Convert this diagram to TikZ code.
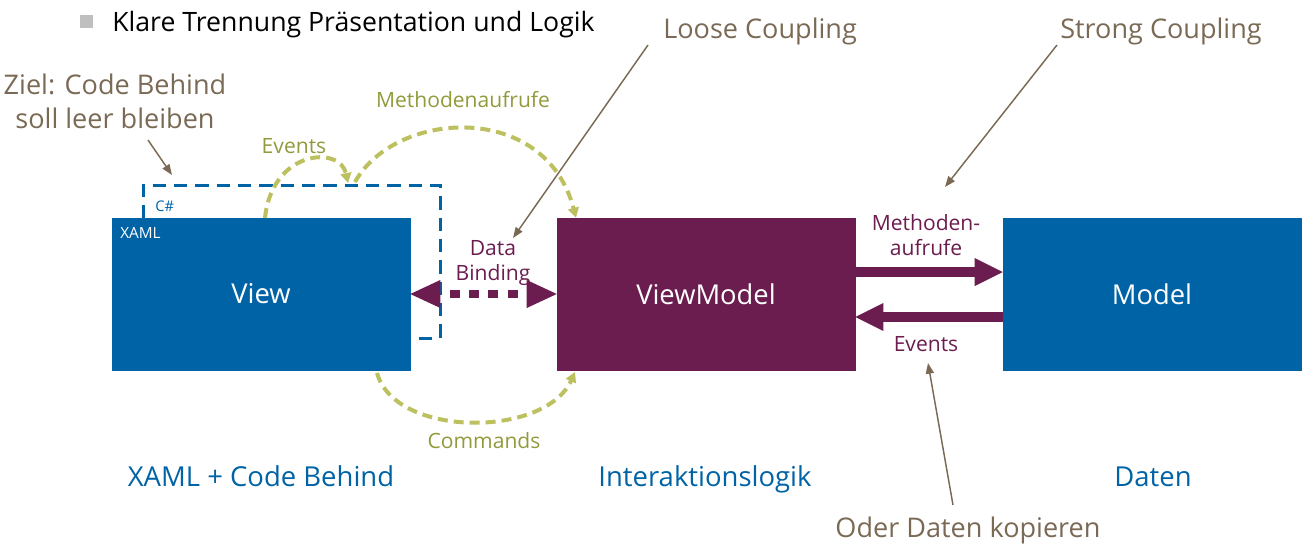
\documentclass[tikz,border=0pt]{standalone}
\usepackage{fontspec}
\setmainfont{Open Sans}
\usetikzlibrary{arrows.meta}
\definecolor{vblue}{RGB}{0,99,166}
\definecolor{vpurple}{RGB}{107,29,79}
\definecolor{vbrown}{RGB}{122,106,85}
\definecolor{vgreen}{RGB}{188,192,94}
\definecolor{vgreentext}{RGB}{146,154,60}
\definecolor{vgray}{RGB}{191,191,191}
\tikzset{
  box/.style={fill=#1, draw=#1, minimum width=223.5pt, minimum height=114pt, inner sep=0pt,
              text=white, font=\fontsize{20.5}{24}\selectfont},
  lbl/.style={inner sep=0pt, font=\fontsize{#1}{24}\selectfont},
  brownlbl/.style={inner sep=0pt, text=vbrown, font=\fontsize{20.3}{25.5}\selectfont, align=center},
  greenlbl/.style={inner sep=0pt, text=vgreentext, font=\fontsize{15.8}{19}\selectfont},
  purplelbl/.style={inner sep=0pt, text=vpurple, font=\fontsize{15.8}{19}\selectfont, align=center},
  bluelbl/.style={inner sep=0pt, text=vblue, font=\fontsize{20.6}{24}\selectfont},
  pointer/.style={draw=vbrown, line width=1.1pt, -{Triangle[length=8pt,width=6pt]}},
  greenarc/.style={draw=vgreen, line width=3pt, dash pattern=on 7.5pt off 4.5pt,
                   -{Triangle[length=7.5pt,width=8pt]}},
  fatarrow/.style={draw=vpurple, line width=7.5pt, -{Triangle[length=21pt,width=21pt,line width=0pt]}},
  bindarrow/.style={draw=vpurple, line width=6pt, dash pattern=on 7.5pt off 7pt, dash phase=7.5pt,
                   {Triangle[length=22.5pt,width=21pt,line width=0pt]}-{Triangle[length=22.5pt,width=21pt,line width=0pt]}},
}
\begin{document}
\begin{tikzpicture}[x=0.75pt,y=-0.75pt]
\useasboundingbox (0,0) rectangle (1304,551);

% bullet and title
\node[fill=vgray, minimum size=9.75pt, inner sep=0pt] (bullet) at (86.5,21.5) {};
\node[lbl=20, anchor=base west] (title) at (112,31) {Klare Trennung Präsentation und Logik};

% boxes
\node[box=vblue] (view) at (261,294) {View};
\node[box=vpurple] (vm) at (706,294) {ViewModel};
\node[box=vblue] (model) at (1152,294) {Model};

\node[lbl=11.5, text=white, anchor=base west] (xaml) at (120,238) {XAML};

% dashed code-behind frame
\draw[vblue, line width=2.25pt, dash pattern=on 10pt off 6pt]
  (143,218) -- (143,185) -- (440,185) -- (440,338) -- (410,338);
\node[lbl=11, text=vblue, anchor=base west] (cs) at (155,211) {C\#};

% data binding
\draw[bindarrow] (view.east) -- (vm.west);
\node[purplelbl] (db) at (493,263) {Data\\Binding};

% ViewModel <-> Model
\draw[fatarrow] (vm.east |- 0,272) -- (model.west |- 0,272);
\draw[fatarrow] (model.west |- 0,317) -- (vm.east |- 0,317);
\node[purplelbl] (ma) at (926,235) {Methoden-\\aufrufe};
\node[purplelbl, anchor=base] (ev2) at (926,351) {Events};

% green arcs
\coordinate (ev1s) at (265,218);
\coordinate (ev1e) at (348,183);
\draw[greenarc] (ev1s) .. controls (272,150) and (340,145) .. (ev1e);
\node[greenlbl, anchor=base] (ev1) at (294,153) {Events};

\coordinate (mas) at (355,182);
\draw[greenarc] (mas) .. controls (395,110) and (545,100) .. (vm.north west -| 576,0);
\node[greenlbl, anchor=base] (ma1) at (463,107) {Methodenaufrufe};

\coordinate (cms) at (377,373);
\coordinate (cme) at (575,372);
\draw[greenarc] (cms) .. controls (395,438) and (545,438) .. (cme);
\node[greenlbl, anchor=base] (cm) at (484,448) {Commands};

% brown annotations
\node[brownlbl] (ziel) at (115,101) {Ziel: Code Behind\\soll leer bleiben};
\coordinate (zielp) at (148,140);
\coordinate (zielt) at (172,175);
\draw[pointer] (zielp) -- (zielt);

\node[brownlbl, anchor=base west] (loose) at (663,38) {Loose Coupling};
\coordinate (loosep) at (648,45);
\coordinate (looset) at (513,238);
\draw[pointer] (loosep) -- (looset);

\node[brownlbl, anchor=base west] (strong) at (1060,38) {Strong Coupling};
\coordinate (strongp) at (1057,45);
\coordinate (strongt) at (945,187);
\draw[pointer] (strongp) -- (strongt);

\node[brownlbl, anchor=base] (oder) at (968,537) {Oder Daten kopieren};
\coordinate (oderp) at (953,505);
\coordinate (odert) at (928,363);
\draw[pointer] (oderp) -- (odert);

% bottom labels
\node[bluelbl, anchor=base] (b1) at (261,486) {XAML + Code Behind};
\node[bluelbl, anchor=base] (b2) at (705,486) {Interaktionslogik};
\node[bluelbl, anchor=base] (b3) at (1153,486) {Daten};
\end{tikzpicture}
\end{document}
